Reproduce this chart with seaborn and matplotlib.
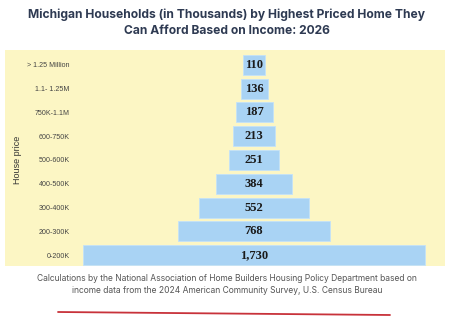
import matplotlib
matplotlib.use("Agg")
import matplotlib.pyplot as plt
from matplotlib.patches import Rectangle
from matplotlib.lines import Line2D
import pandas as pd
import seaborn as sns

PRICE_BANDS = ["> 1.25 Million", "1.1- 1.25M", "750K-1.1M", "600-750K", "500-600K",
               "400-500K", "300-400K", "200-300K", "0-200K"]
HOUSEHOLDS = [110, 136, 187, 213, 251, 384, 552, 768, 1730]
VALUE_LABELS = ["110", "136", "187", "213", "251", "384", "552", "768", "1,730"]

TITLE = ("Michigan Households (in Thousands) by Highest Priced Home They\n"
         "Can Afford Based on Income: 2026")
CAPTION = ("Calculations by the National Association of Home Builders Housing Policy Department based on\n"
           "income data from the 2024 American Community Survey, U.S. Census Bureau")

sns.set_style("white")
plt.rcParams["font.family"] = ["Liberation Sans", "DejaVu Sans"]

df = pd.DataFrame({"band": PRICE_BANDS, "households": HOUSEHOLDS})

W, H = 454, 332
fig = plt.figure(figsize=(W / 100, H / 100), dpi=100)

# pale yellow panel behind the chart (scanned look)
fig.patches.append(Rectangle((5 / W, 1 - 266 / H), 440 / W, 216 / H,
                             transform=fig.transFigure, facecolor="#fcf6c4",
                             edgecolor="none", zorder=-5))

ax = fig.add_axes([78 / W, 1 - 267 / H, 362 / W, 214 / H])
ax.patch.set_alpha(0)

sns.barplot(data=df, x="households", y="band", orient="h", color="#a9d3f4",
            saturation=1, width=0.84, edgecolor="#c4e2f8", linewidth=0.6, ax=ax)

# center each bar to get the funnel shape
for patch, lab in zip(ax.patches, VALUE_LABELS):
    w = patch.get_width()
    patch.set_x(-w / 2)
    ax.text(0, patch.get_y() + patch.get_height() / 2, lab, ha="center", va="center",
            family="Liberation Serif", fontweight="bold", fontsize=9, color="#1a1a1a")

ax.set_xlim(-890, 940)
ax.set_xlabel("")
ax.set_xticks([])
ax.set_ylabel("House price", fontsize=6.5, color="#333333")
ax.yaxis.set_label_coords(-0.155, 0.5)
ax.tick_params(axis="y", length=0, pad=6, labelsize=5.1, labelcolor="#444444")
sns.despine(ax=ax, left=True, bottom=True)

fig.text(0.5, 1 - 23 / H, TITLE, ha="center", va="center", fontsize=8.7,
         fontweight="bold", color="#2e3a52", family=["Inter", "DejaVu Sans"],
         linespacing=1.4)
fig.text(0.5, 1 - 284.5 / H, CAPTION, ha="center", va="center", fontsize=6.1,
         color="#555555", family=["Inter", "DejaVu Sans"], linespacing=1.45)

fig.add_artist(Line2D([58 / W, 390 / W], [1 - 312 / H, 1 - 315 / H],
                      transform=fig.transFigure, color="#c8323a", linewidth=1.3))

fig.savefig("out.png", dpi=100)
